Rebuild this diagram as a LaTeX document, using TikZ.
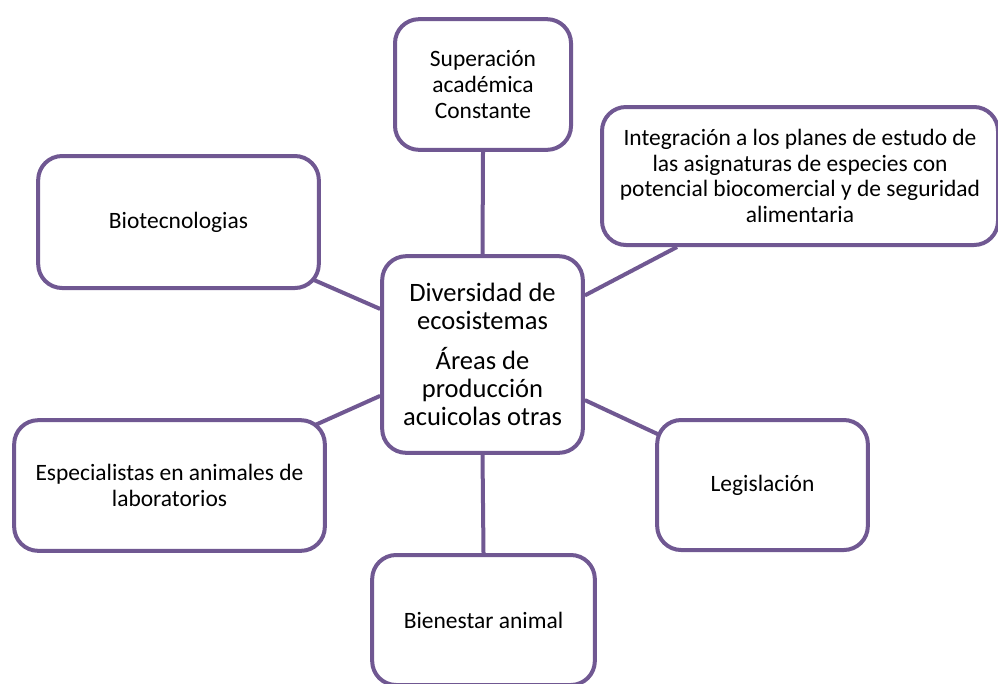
\documentclass[tikz,border=0pt]{standalone}
\usepackage{fontspec}
\setmainfont{Carlito}
\usetikzlibrary{backgrounds,calc}
\definecolor{morado}{RGB}{112,88,146}
\begin{document}
\begin{tikzpicture}[x=0.75pt,y=-0.75pt,
		caja/.style={draw=morado,line width=3pt,rounded corners=18pt,fill=white,
			align=center,inner sep=2pt,font=\fontsize{17.6pt}{19.3pt}\selectfont},
		enlace/.style={draw=morado,line width=3pt}]
		\useasboundingbox (0,0) rectangle (998,683);
		
		% Nodo central
		\node[caja,minimum width=150.5pt,minimum height=147.5pt,
			font=\fontsize{19.9pt}{21pt}\selectfont] (div) at (482.5,354.5)
			{Diversidad de\\ecosistemas\\[9.5pt]Áreas de\\producción\\acuicolas otras};
		
		% Nodos exteriores
		\node[caja,minimum width=132pt,minimum height=98pt] (sup) at (483,84.5)
			{Superación\\académica\\Constante};
		\node[caja,minimum width=297pt,minimum height=103.5pt] (integ) at (800,176)
			{Integración a los planes de estudo de\\las asignaturas de especies con\\potencial biocomercial y de seguridad\\alimentaria};
		\node[caja,minimum width=210.5pt,minimum height=99pt] (bio) at (178.5,222)
			{Biotecnologias};
		\node[caja,minimum width=233pt,minimum height=98pt] (esp) at (169.5,485.5)
			{Especialistas en animales de\\laboratorios};
		\node[caja,minimum width=158pt,minimum height=97.5pt] (leg) at (762.5,485)
			{Legislación};
		\node[caja,minimum width=167pt,minimum height=97.5pt] (bien) at (483.5,620)
			{Bienestar animal};
		
		% Enlaces
		\begin{scope}[on background layer]
			\draw[enlace] (div.north) -- (sup.south);
			\draw[enlace] (div.30) -- (integ.210);
			\draw[enlace] (div.156) -- ($(bio.south east)+(-16,-14)$);
			\draw[enlace] (div.202) -- ($(esp.north east)+(-12,7)$);
			\draw[enlace] (div.-24) -- ($(leg.north west)+(13,21)$);
			\draw[enlace] (div.south) -- (bien.north);
		\end{scope}
		
	\end{tikzpicture}
\end{document}
